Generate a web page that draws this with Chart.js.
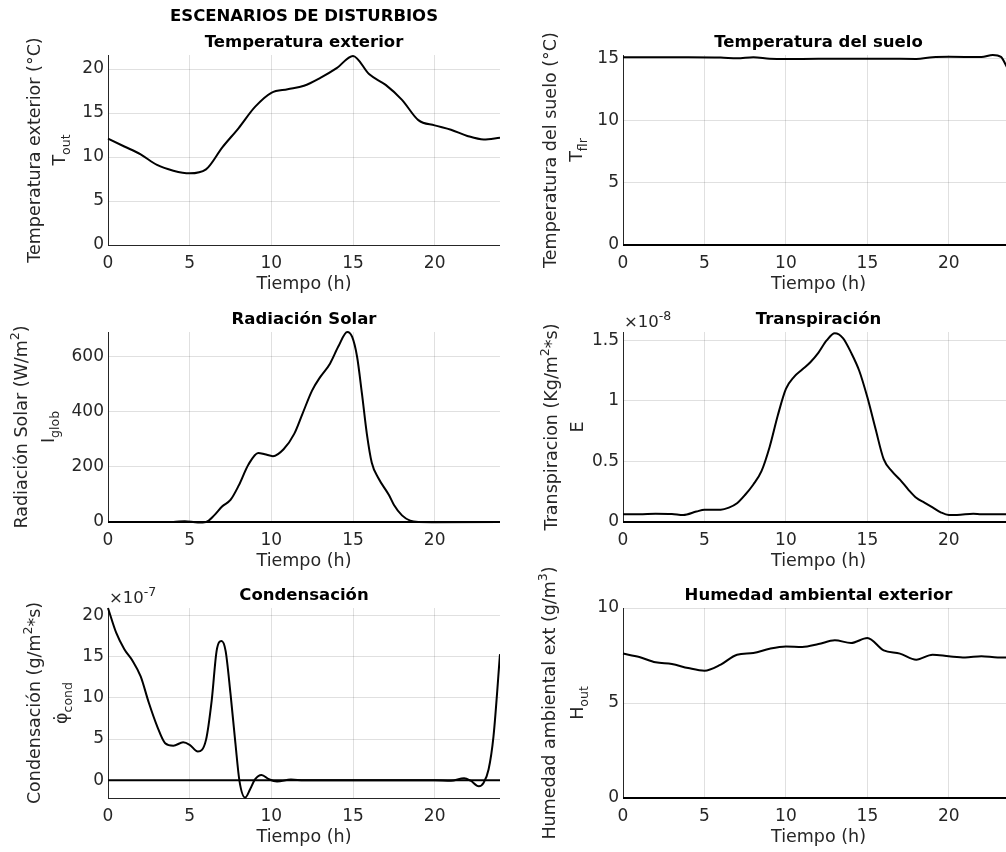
<!DOCTYPE html>
<html>
<head>
<meta charset="utf-8">
<script src="https://cdn.jsdelivr.net/npm/chart.js@4.4.1/dist/chart.umd.min.js"></script>
<style>
html, body { margin: 0; padding: 0; background: #fff; width: 1006px; height: 852px; overflow: hidden; }
#fig { position: relative; width: 1006px; height: 852px; }
canvas { position: absolute; }
</style>
</head>
<body>
<div id="fig">
  <canvas id="c1" width="500" height="300" style="left:0;top:0"></canvas>
  <canvas id="c2" width="514" height="300" style="left:500px;top:0"></canvas>
  <canvas id="c3" width="500" height="300" style="left:0;top:277px"></canvas>
  <canvas id="c4" width="514" height="300" style="left:500px;top:277px"></canvas>
  <canvas id="c5" width="500" height="300" style="left:0;top:553px"></canvas>
  <canvas id="c6" width="514" height="300" style="left:500px;top:553px"></canvas>
</div>
<script>
// datos (horas, valores)
const xTicks = [0, 5, 10, 15, 20];

const tempHours = [0, 1, 2, 3, 4, 5, 6, 7, 8, 9, 10, 11, 12, 13, 14, 15, 16, 17, 18, 19, 20, 21, 22, 23, 24];
const tempOut = [12.1, 11.2, 10.3, 9.1, 8.45, 8.15, 8.6, 11.1, 13.3, 15.7, 17.3, 17.7, 18.1, 19.0, 20.1, 21.5, 19.4, 18.2, 16.5, 14.2, 13.6, 13.1, 12.4, 12.0, 12.2];
const tempTicks = [0, 5, 10, 15, 20];

const sueloHours = [0, 2, 4, 6, 7, 8, 9, 10, 12, 14, 16, 18, 19, 20, 22, 22.7, 23.2, 23.5, 24];
const sueloTemp = [15.12, 15.12, 15.12, 15.1, 15.03, 15.12, 15.0, 14.97, 15.0, 15.0, 15.0, 14.98, 15.12, 15.15, 15.13, 15.3, 15.15, 14.5, 13.2];
const sueloTicks = [0, 5, 10, 15];

const radHours = [0, 4, 4.7, 5.5, 6, 6.5, 7, 7.5, 8, 8.6, 9.2, 9.6, 10.1, 10.75, 11.4, 11.9, 12.5, 13, 13.6, 14.1, 14.65, 14.95, 15.25, 15.55, 15.85, 16.15, 16.55, 17.2, 17.5, 18, 18.5, 19, 20, 24];
const radVals = [0, 0, 3, -2, 0, 24, 57, 80, 132, 209, 251, 246, 239, 264, 320, 392, 478, 527, 576, 637, 690, 672, 600, 465, 319, 215, 160, 98, 63, 24, 5, 0, -1, 0];
const radTicks = [0, 200, 400, 600];

// x 1e-8
const transHours = [0, 1, 2, 3, 3.7, 4.5, 5, 6, 6.5, 7, 7.5, 8, 8.5, 9, 9.5, 10, 10.5, 11, 11.5, 12, 12.5, 13, 13.5, 14, 14.5, 15, 15.5, 16, 16.5, 17, 17.5, 18, 18.5, 19, 19.5, 20, 20.5, 21.5, 22, 23, 24];
const transVals = [0.064, 0.064, 0.069, 0.067, 0.058, 0.086, 0.102, 0.102, 0.119, 0.155, 0.225, 0.31, 0.42, 0.62, 0.88, 1.1, 1.2, 1.26, 1.32, 1.40, 1.50, 1.56, 1.52, 1.40, 1.25, 1.03, 0.77, 0.52, 0.42, 0.35, 0.27, 0.2, 0.16, 0.12, 0.08, 0.058, 0.058, 0.069, 0.064, 0.064, 0.064];
const transTicks = [0, 0.5, 1, 1.5];

// x 1e-7
const condHours = [0, 0.5, 1, 1.5, 2, 2.5, 3, 3.5, 4, 4.6, 5, 5.5, 6, 6.35, 6.65, 6.95, 7.2, 7.5, 7.8, 8.05, 8.4, 8.7, 9.0, 9.4, 9.85, 10.35, 11.2, 12, 20, 21, 21.8, 22.2, 22.7, 23, 23.3, 23.6, 24];
const condVals = [20.9, 17.9, 15.9, 14.5, 12.6, 9.4, 6.6, 4.5, 4.2, 4.6, 4.3, 3.5, 4.9, 9.7, 15.7, 16.9, 15.7, 10.5, 4.5, -0.1, -2.1, -1.1, 0.1, 0.64, 0.12, -0.16, 0.08, 0, 0, -0.05, 0.25, -0.05, -0.73, -0.3, 1.3, 5.3, 15.3];
const condTicks = [0, 5, 10, 15, 20];

const humHours = [0, 1, 2, 3, 4, 5, 6, 7, 8, 9, 10, 11, 12, 13, 14, 15, 16, 17, 18, 19, 20, 21, 22, 23, 24];
const humVals = [7.6, 7.42, 7.14, 7.05, 6.84, 6.70, 7.02, 7.54, 7.63, 7.86, 7.98, 7.95, 8.1, 8.3, 8.16, 8.42, 7.77, 7.6, 7.28, 7.54, 7.46, 7.4, 7.46, 7.4, 7.4];
const humTicks = [0, 5, 10];

const zeroHours = [0, 24];
const zeroLine = [0, 0];

const FONT = 'DejaVu Sans';
const AX = '#262626';
const GRID = 'rgba(38,38,38,0.14)';

function zip(xs, ys) {
    return xs.map((x, i) => ({ x: x, y: ys[i] }));
}

// etiquetas del eje y (dos lineas con subindices) y exponente
function textPlugin(cfg) {
    return {
        id: 'texto_' + cfg.id,
        afterDraw(chart) {
            const ctx = chart.ctx;
            const a = chart.chartArea;
            const cy = (a.top + a.bottom) / 2;
            const segFont = s => (s.sub || s.sup) ? `12.5px "${FONT}"` : `17.5px "${FONT}"`;
            ctx.save();
            ctx.fillStyle = AX;
            ctx.textBaseline = 'alphabetic';
            ctx.textAlign = 'left';
            cfg.ylab.forEach((line, i) => {
                ctx.save();
                ctx.translate(cfg.ylabX[i], cy);
                ctx.rotate(-Math.PI / 2);
                let total = 0;
                line.forEach(s => { ctx.font = segFont(s); total += ctx.measureText(s.t).width; });
                let x = -total / 2;
                line.forEach(s => {
                    ctx.font = segFont(s);
                    const dy = s.sub ? 5 : (s.sup ? -8 : 0);
                    ctx.fillText(s.t, x, dy);
                    x += ctx.measureText(s.t).width;
                });
                ctx.restore();
            });
            if (cfg.exp) {
                ctx.font = `16.5px "${FONT}"`;
                const w = ctx.measureText('\u00d710').width;
                ctx.fillText('\u00d710', a.left + 1, a.top - 5);
                ctx.font = `12.5px "${FONT}"`;
                ctx.fillText(cfg.exp, a.left + 1 + w, a.top - 12);
            }
            ctx.restore();
        }
    };
}

function subplot(cfg) {
    const datasets = [{
        data: zip(cfg.x, cfg.y),
        borderColor: '#000',
        borderWidth: 2,
        pointRadius: 0,
        cubicInterpolationMode: 'monotone',
        clip: 6
    }];
    if (cfg.zero) {
        datasets.push({
            data: zip(zeroHours, zeroLine),
            borderColor: '#000',
            borderWidth: 2,
            pointRadius: 0,
            clip: 6
        });
    }
    new Chart(document.getElementById(cfg.id), {
        type: 'line',
        data: { datasets },
        options: {
            responsive: false,
            animation: false,
            layout: { padding: 0 },
            plugins: {
                legend: { display: false },
                tooltip: { enabled: false },
                title: {
                    display: true,
                    text: cfg.title,
                    fullSize: false,
                    color: '#000',
                    font: { family: FONT, size: 16.5, weight: 'bold', lineHeight: cfg.titleLH },
                    padding: cfg.titlePad
                }
            },
            scales: {
                x: {
                    type: 'linear',
                    min: 0,
                    max: 24,
                    afterBuildTicks: s => { s.ticks = xTicks.map(v => ({ value: v })); },
                    afterFit: s => { s.height = 55; },
                    grid: { color: GRID, drawTicks: false },
                    border: { color: AX, width: 1 },
                    ticks: { color: AX, font: { family: FONT, size: 17 }, padding: 8, maxRotation: 0, autoSkip: false },
                    title: { display: true, text: 'Tiempo (h)', color: AX, font: { family: FONT, size: 17.5 }, padding: { top: 0, bottom: 5 } }
                },
                y: {
                    type: 'linear',
                    min: cfg.ymin,
                    max: cfg.ymax,
                    afterBuildTicks: s => { s.ticks = cfg.yTicks.map(v => ({ value: v })); },
                    afterFit: s => { s.width = cfg.yw; },
                    grid: { color: GRID, drawTicks: false },
                    border: { color: AX, width: 1 },
                    ticks: { color: AX, font: { family: FONT, size: 17 }, padding: 4, callback: v => String(v) }
                }
            }
        },
        plugins: [textPlugin(cfg)]
    });
}

const oneLine = { lh: 1.2, pad: { top: 33, bottom: 2.2 } };

subplot({
    id: 'c1', x: tempHours, y: tempOut, yTicks: tempTicks, ymin: 0, ymax: 21.6, yw: 108,
    title: ['ESCENARIOS DE DISTURBIOS', 'Temperatura exterior'], titleLH: '25.5px', titlePad: { top: 4, bottom: 0 },
    ylab: [[{ t: 'Temperatura exterior (\u00b0C)' }], [{ t: 'T' }, { t: 'out', sub: true }]], ylabX: [40, 65]
});
subplot({
    id: 'c2', x: sueloHours, y: sueloTemp, yTicks: sueloTicks, ymin: 0, ymax: 15.3, yw: 123, zero: true,
    title: 'Temperatura del suelo', titleLH: oneLine.lh, titlePad: oneLine.pad,
    ylab: [[{ t: 'Temperatura del suelo (\u00b0C)' }], [{ t: 'T' }, { t: 'flr', sub: true }]], ylabX: [56, 82]
});
subplot({
    id: 'c3', x: radHours, y: radVals, yTicks: radTicks, ymin: 0, ymax: 690, yw: 108, zero: true,
    title: 'Radiación Solar', titleLH: oneLine.lh, titlePad: oneLine.pad,
    ylab: [[{ t: 'Radiación Solar (W/m' }, { t: '2', sup: true }, { t: ')' }], [{ t: 'I' }, { t: 'glob', sub: true }]], ylabX: [27, 54]
});
subplot({
    id: 'c4', x: transHours, y: transVals, yTicks: transTicks, ymin: 0, ymax: 1.57, yw: 123, zero: true, exp: '-8',
    title: 'Transpiración', titleLH: oneLine.lh, titlePad: oneLine.pad,
    ylab: [[{ t: 'Transpiracion (Kg/m' }, { t: '2', sup: true }, { t: '*s)' }], [{ t: 'E' }]], ylabX: [57, 83]
});
subplot({
    id: 'c5', x: condHours, y: condVals, yTicks: condTicks, ymin: -2.15, ymax: 20.9, yw: 108, zero: true, exp: '-7',
    title: 'Condensación', titleLH: oneLine.lh, titlePad: oneLine.pad,
    ylab: [[{ t: 'Condensación (g/m' }, { t: '2', sup: true }, { t: '*s)' }], [{ t: '\u03c6\u0307' }, { t: 'cond', sub: true }]], ylabX: [40, 67]
});
subplot({
    id: 'c6', x: humHours, y: humVals, yTicks: humTicks, ymin: 0, ymax: 10, yw: 123, zero: true,
    title: 'Humedad ambiental exterior', titleLH: oneLine.lh, titlePad: oneLine.pad,
    ylab: [[{ t: 'Humedad ambiental ext (g/m' }, { t: '3', sup: true }, { t: ')' }], [{ t: 'H' }, { t: 'out', sub: true }]], ylabX: [55, 83]
});
</script>
</body>
</html>
